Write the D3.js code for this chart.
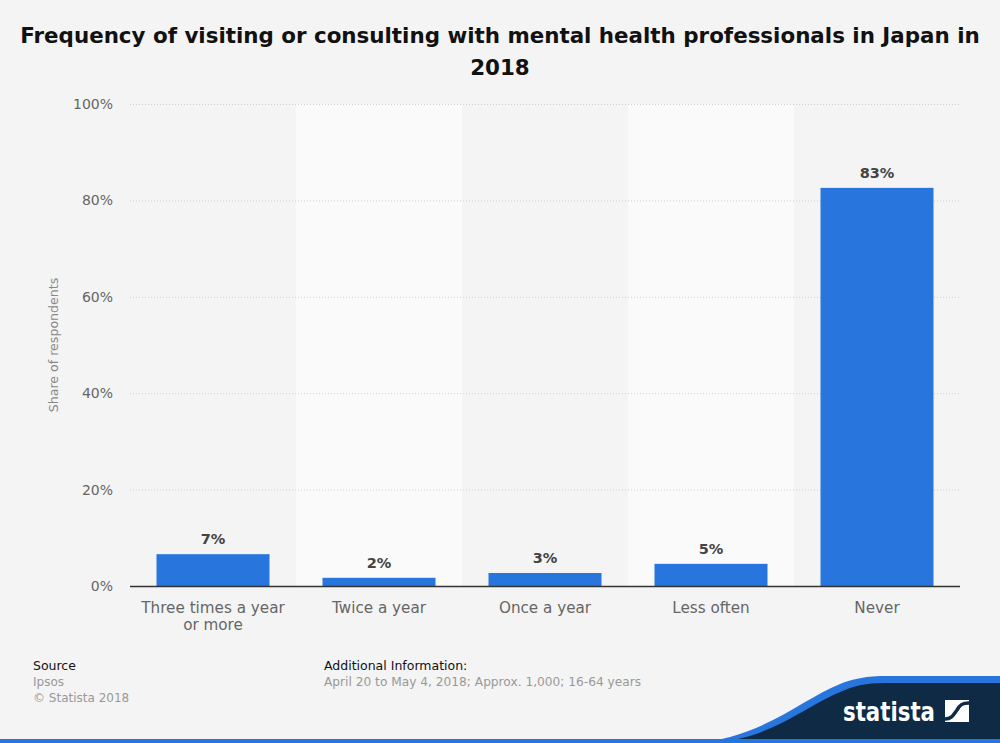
<!DOCTYPE html>
<html><head><meta charset="utf-8">
<script src="https://cdn.jsdelivr.net/npm/d3@7"></script>
<style>body{margin:0;background:#f4f4f4;}svg{display:block;font-family:"DejaVu Sans",sans-serif;}</style>
</head><body>
<svg id="c" width="1000" height="743"></svg>
<script>
const categories = [["Three times a year","or more"],["Twice a year"],["Once a year"],["Less often"],["Never"]];
const values = [6.6, 1.7, 2.7, 4.6, 82.6];
const valueLabels = ["7%","2%","3%","5%","83%"];
const yTicks = [0,20,40,60,80,100];

const svg = d3.select("#c");
const W=1000,H=743;
svg.append("rect").attr("width",W).attr("height",H).attr("fill","#f4f4f4");
const m={l:130,r:40,t:104,b:157};
const x=d3.scaleBand().domain(d3.range(categories.length)).range([m.l,W-m.r]).paddingInner(0).paddingOuter(0);
const y=d3.scaleLinear().domain([0,100]).range([H-m.b,m.t]);

svg.append("g").selectAll("rect").data(d3.range(categories.length).filter(i=>i%2==1)).join("rect")
  .attr("x",i=>x(i)).attr("width",x.bandwidth()).attr("y",m.t).attr("height",y(0)-m.t).attr("fill","#fafafa");

const grid=svg.append("g").attr("transform",`translate(${m.l},0)`)
 .call(d3.axisLeft(y).tickValues(yTicks).tickSize(-(W-m.l-m.r)).tickFormat(""));
grid.select(".domain").remove();
grid.selectAll("line").attr("stroke","#cfcfcf").attr("stroke-dasharray","1,2");
grid.selectAll(".tick").filter(d=>d===0).remove();

const ya=svg.append("g").attr("transform",`translate(${m.l-14},0)`)
 .call(d3.axisLeft(y).tickValues(yTicks).tickSize(0).tickFormat(d=>d+"%"));
ya.select(".domain").remove();
ya.selectAll("text").attr("fill","#666").style("font-size","14px").style("font-family","DejaVu Sans");

const bw=113;
svg.append("g").selectAll("rect").data(values).join("rect")
 .attr("x",(d,i)=>x(i)+(x.bandwidth()-bw)/2).attr("width",bw)
 .attr("y",d=>y(d)).attr("height",d=>y(0)-y(d)).attr("fill","#2876dd");

svg.append("g").selectAll("text").data(values).join("text")
 .attr("x",(d,i)=>x(i)+x.bandwidth()/2).attr("y",d=>y(d)-10)
 .attr("text-anchor","middle").attr("fill","#444").style("font-size","14.5px").style("font-weight","bold")
 .text((d,i)=>valueLabels[i]);

svg.append("line").attr("x1",m.l).attr("x2",W-m.r).attr("y1",y(0)+0.5).attr("y2",y(0)+0.5).attr("stroke","#333").attr("stroke-width",1.5);

const xl=svg.append("g").selectAll("text").data(categories).join("text")
 .attr("x",(d,i)=>x(i)+x.bandwidth()/2).attr("y",y(0)+27).attr("text-anchor","middle")
 .attr("fill","#666").style("font-size","15.2px");
xl.selectAll("tspan").data(d=>d).join("tspan").attr("x",function(){return this.parentNode.getAttribute("x");})
 .attr("dy",(d,i)=>i?17:0).text(d=>d);

svg.append("text").attr("transform",`translate(58,${(y(0)+y(100))/2}) rotate(-90)`).attr("text-anchor","middle")
 .attr("fill","#888").style("font-size","12.6px").text("Share of respondents");

const t=svg.append("text").attr("text-anchor","middle").attr("fill","#111").style("font-size","21.4px").style("font-weight","bold");
t.append("tspan").attr("x",W/2).attr("y",43).text("Frequency of visiting or consulting with mental health professionals in Japan in");
t.append("tspan").attr("x",W/2).attr("y",75).text("2018");

svg.append("text").attr("x",33).attr("y",670).style("font-size",12.5).attr("fill","#111").text("Source");
svg.append("text").attr("x",33).attr("y",686).style("font-size",12).attr("fill","#999").text("Ipsos");
svg.append("text").attr("x",33).attr("y",702).style("font-size",12).attr("fill","#999").text("© Statista 2018");
svg.append("text").attr("x",324).attr("y",670).style("font-size",12.5).attr("fill","#111").text("Additional Information:");
svg.append("text").attr("x",324).attr("y",686).style("font-size",12.2).attr("fill","#999").text("April 20 to May 4, 2018; Approx. 1,000; 16-64 years");

svg.append("path").attr("d","M690,743 C760,740 800,700 840,684 C850,680 860,677 880,676 L1000,676 L1000,743 Z").attr("fill","#2876dd");
svg.append("path").attr("d","M712,743 C775,738 805,705 845,690 C855,686 865,683 885,683 L1000,683 L1000,743 Z").attr("fill","#0e2a45");
svg.append("rect").attr("x",0).attr("y",739).attr("width",W).attr("height",4).attr("fill","#2876dd");
svg.append("text").attr("x",843).attr("y",721).attr("fill","#fff").style("font-size","27px").style("font-weight","bold")
 .attr("textLength",92).attr("lengthAdjust","spacingAndGlyphs").text("statista");
svg.append("rect").attr("x",945).attr("y",700).attr("width",24).attr("height",22).attr("fill","#fff");
svg.append("path").attr("d","M945,719 C952,719 954,714 957,710 C960,705 962,703 969,703").attr("fill","none").attr("stroke","#0e2a45").attr("stroke-width",3.5);
</script>
</body></html>
